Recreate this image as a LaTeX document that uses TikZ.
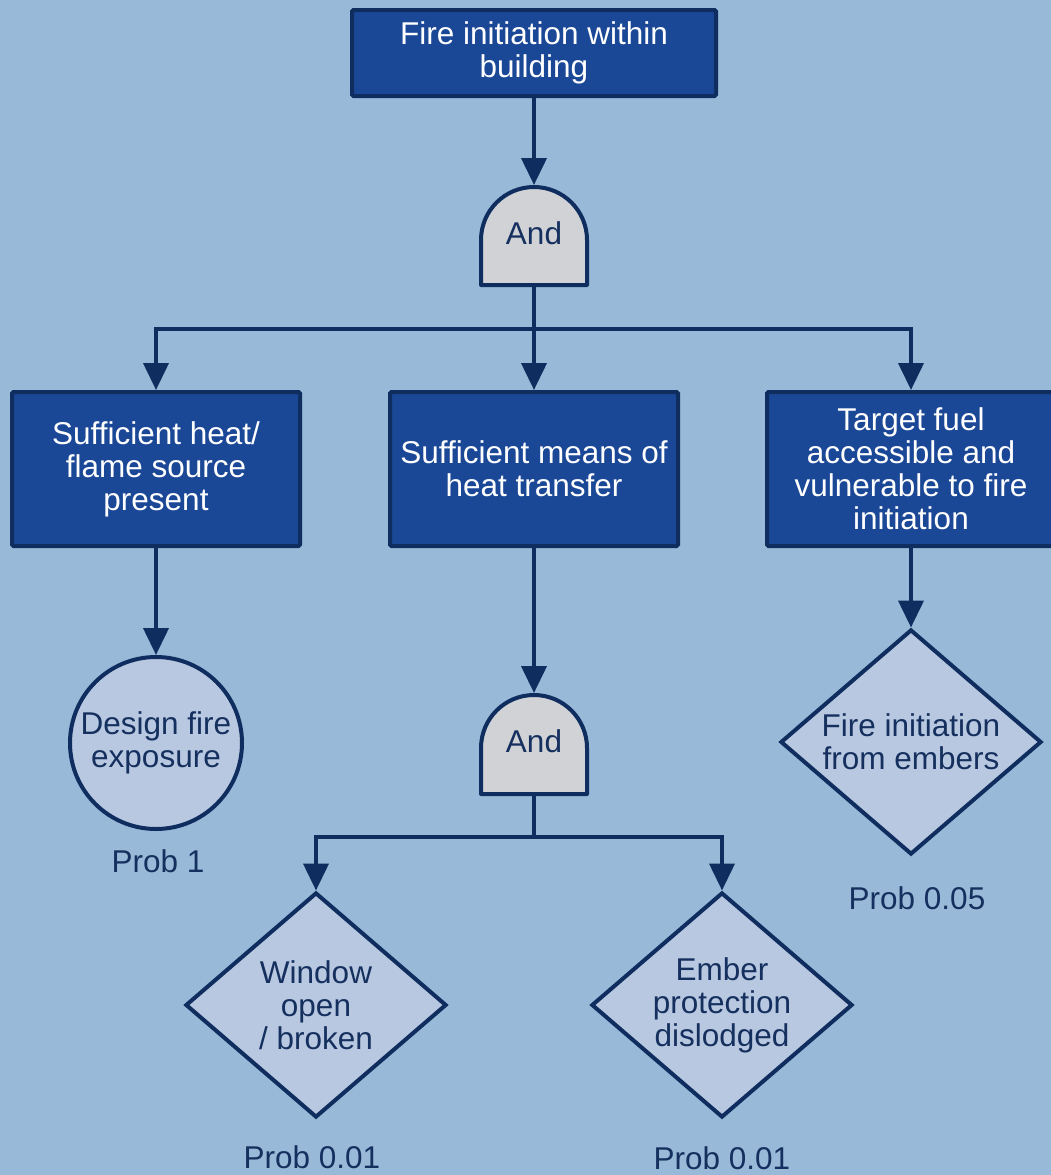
\documentclass[tikz,border=0pt]{standalone}
\usepackage{fontspec}
\setmainfont{Liberation Sans}
\usetikzlibrary{arrows.meta,shapes.geometric}
\definecolor{bg}{HTML}{98BAD8}
\definecolor{boxblue}{HTML}{1B4896}
\definecolor{navy}{HTML}{0F2D5E}
\definecolor{gategrey}{HTML}{D0D2D6}
\definecolor{leaf}{HTML}{B8C8E0}
\definecolor{ink}{HTML}{15305E}
\begin{document}
\begin{tikzpicture}[x=1pt,y=-1pt,
  every node/.style={font=\fontsize{31.5}{33}\selectfont, align=center},
  event/.style={draw=navy, line width=4pt, fill=boxblue, text=white,
    minimum width=288pt, minimum height=154pt, inner sep=0pt, rounded corners=1.5pt},
  gateshape/.style={draw=navy, line width=4pt, fill=gategrey, line join=round},
  gatelabel/.style={text=ink, inner sep=0pt},
  basic/.style={circle, draw=navy, line width=4pt, fill=leaf, text=ink,
    minimum size=172pt, inner sep=0pt},
  undeveloped/.style={diamond, draw=navy, line width=4pt, fill=leaf, text=ink,
    minimum width=261pt, minimum height=225pt, aspect=1.16, inner sep=0pt},
  prob/.style={text=ink, inner sep=0pt},
  conn/.style={draw=navy, line width=4pt, -{Triangle[length=27pt,width=25pt]}},
  wire/.style={draw=navy, line width=4pt}
]
\useasboundingbox[fill=bg] (0,0) rectangle (1051,1175);

% top event
\node[event, minimum width=364pt, minimum height=86pt] (top) at (534,53)
  {Fire initiation within\\building};

% first AND gate
\draw[gateshape] (481,285) -- (481,240)
  arc[start angle=180, end angle=360, radius=53] -- (587,285) -- cycle;
\node[gatelabel] (and1) at (534,233) {And};
\coordinate (and1 top) at (534,185);
\coordinate (and1 bot) at (534,285);
\coordinate (bus1) at (534,329);

% intermediate events
\node[event] (heat) at (156,469) {Sufficient heat/\\flame source\\present};
\node[event] (transfer) at (534,469) {Sufficient means of\\heat transfer};
\node[event] (fuel) at (911,469) {Target fuel\\accessible and\\vulnerable to fire\\initiation};

% second AND gate
\draw[gateshape] (481,794) -- (481,748)
  arc[start angle=180, end angle=360, radius=53] -- (587,794) -- cycle;
\node[gatelabel] (and2) at (534,741) {And};
\coordinate (and2 top) at (534,693);
\coordinate (and2 bot) at (534,794);
\coordinate (bus2) at (534,837);

% basic and undeveloped events
\node[basic] (design) at (156,743) {Design fire\\exposure};
\node[undeveloped] (embers) at (911,742) {Fire initiation\\from embers};
\node[undeveloped] (window) at (316,1005) {Window\\open\\/ broken};
\node[undeveloped] (ember) at (722,1005) {Ember\\protection\\dislodged};

% probabilities
\node[prob] (p1) at (158,861) {Prob 1};
\node[prob] (p2) at (917,898) {Prob 0.05};
\node[prob] (p3) at (312,1157) {Prob 0.01};
\node[prob] (p4) at (722,1158) {Prob 0.01};

% connectors
\draw[conn] (top.south) -- (and1 top);
\draw[wire] (and1 bot) -- (bus1);
\draw[conn] (bus1) -| (heat.north);
\draw[conn] (bus1) -| (fuel.north);
\draw[conn] (bus1) -- (transfer.north);
\draw[conn] (heat.south) -- (design.north);
\draw[conn] (fuel.south) -- (embers.north);
\draw[conn] (transfer.south) -- (and2 top);
\draw[wire] (and2 bot) -- (bus2);
\draw[conn] (bus2) -| (window.north);
\draw[conn] (bus2) -| (ember.north);
\end{tikzpicture}
\end{document}
